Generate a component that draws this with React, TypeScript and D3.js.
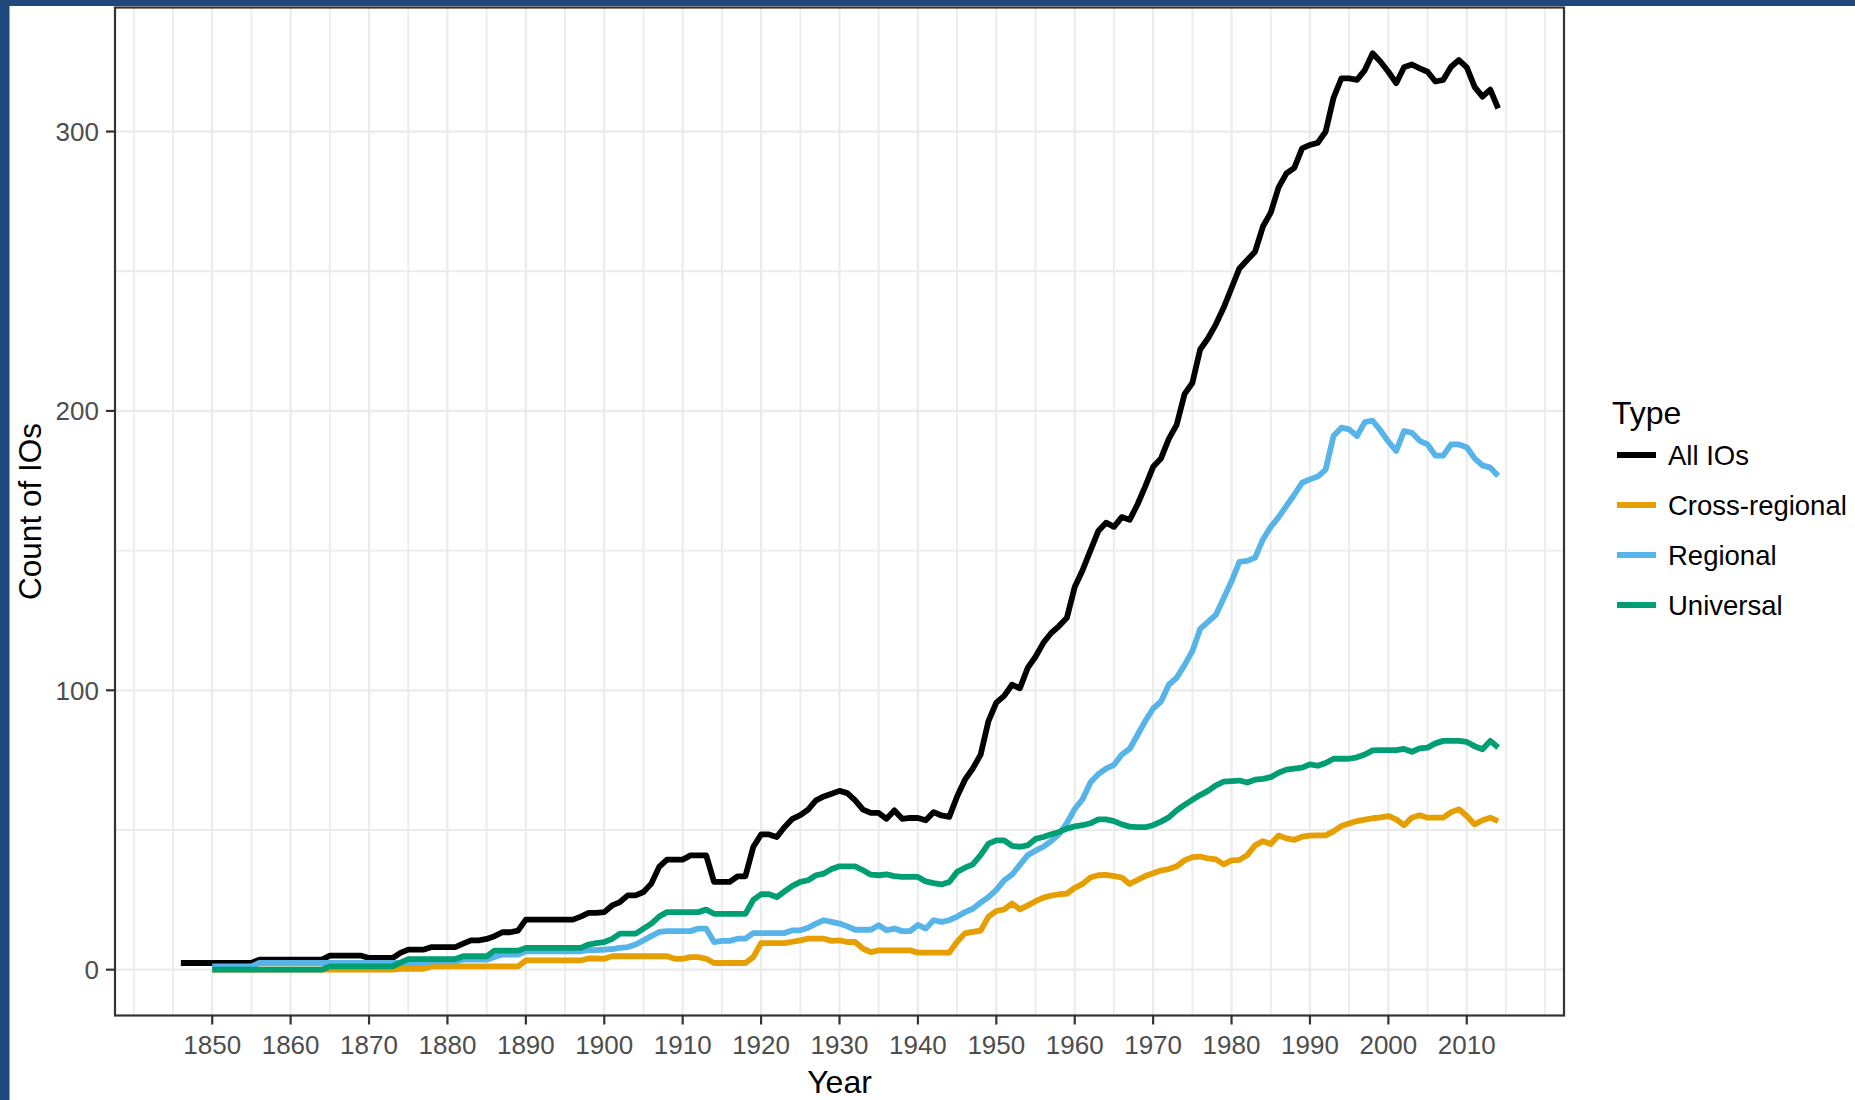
import React from "react";
import * as d3 from "d3";

const W = 1855;
const H = 1100;

const allStart = 1846;
const subStart = 1850;
const endYear = 2014;

const allIOs = [
  2.4, 2.4, 2.4, 2.4,
  2.4, 2.4, 2.4, 2.4, 2.4, 2.4, 3.6, 3.6, 3.6, 3.6,
  3.6, 3.6, 3.6, 3.6, 3.6, 5, 5, 5, 5, 5,
  4.2, 4.2, 4.2, 4.2, 6, 7.2, 7.2, 7.2, 8.1, 8.1,
  8.1, 8.1, 9.3, 10.5, 10.5, 11, 12, 13.4, 13.4, 14,
  17.9, 17.9, 17.9, 17.9, 17.9, 17.9, 17.9, 19, 20.3, 20.3,
  20.6, 23, 24.2, 26.6, 26.6, 27.8, 30.8, 36.8, 39.4, 39.4,
  39.4, 40.9, 40.9, 40.9, 31.4, 31.4, 31.4, 33.4, 33.4, 43.9,
  48.4, 48.4, 47.5, 51.1, 54, 55.3, 57.3, 60.6, 62, 63,
  64, 63.2, 60.6, 57.3, 56.1, 56.1, 54, 57, 54, 54.3,
  54.3, 53.5, 56.4, 55.2, 54.7, 62, 68, 72, 77, 89,
  95.6, 98, 102, 100.7, 108, 112, 117, 120.5, 123, 126,
  137, 143, 150, 157, 160, 158.5, 162, 161, 166.5, 173,
  180, 183, 190, 195, 206, 210, 222, 226, 231, 237,
  244, 251, 254, 257, 266, 271, 280, 285, 287, 294,
  295.2, 296, 300, 312, 319, 319, 318.5, 322, 328, 325,
  321.4, 317.3, 323, 324, 322.6, 321.4, 317.9, 318.5, 323.2, 325.6,
  323, 316, 312.5, 315, 308.3,
];

const crossRegional = [
  0, 0, 0, 0, 0, 0, 0, 0, 0, 0,
  0, 0, 0, 0, 0, 0, 0, 0, 0, 0,
  0, 0, 0, 0, 0.3, 0.3, 0.3, 0.3, 1.2, 1.2,
  1.2, 1.2, 1.2, 1.2, 1.2, 1.2, 1.2, 1.2, 1.2, 1.2,
  3.3, 3.3, 3.3, 3.3, 3.3, 3.3, 3.3, 3.3, 4, 4,
  3.9, 4.8, 4.8, 4.8, 4.8, 4.8, 4.8, 4.8, 4.8, 3.9,
  3.9, 4.5, 4.5, 3.9, 2.4, 2.4, 2.4, 2.4, 2.4, 4.5,
  9.5, 9.5, 9.5, 9.5, 10, 10.5, 11.1, 11.1, 11.1, 10.3,
  10.5, 9.9, 9.9, 7.5, 6.3, 6.9, 6.9, 6.9, 6.9, 6.9,
  6.1, 6.1, 6.1, 6.1, 6.1, 10, 13, 13.5, 14, 19,
  21, 21.6, 23.7, 21.6, 23, 24.5, 25.8, 26.5, 27, 27.2,
  29.3, 30.7, 33, 33.8, 33.9, 33.5, 33, 30.7, 32.1, 33.5,
  34.5, 35.5, 36, 37, 39.1, 40.3, 40.5, 39.8, 39.5, 37.7,
  39.1, 39.3, 41, 44.5, 46, 45, 48, 47, 46.5, 47.6,
  48, 48.1, 48.1, 49.5, 51.4, 52.3, 53.2, 53.7, 54.2, 54.5,
  55, 53.8, 51.7, 54.4, 55.3, 54.4, 54.4, 54.4, 56.4, 57.4,
  55, 52, 53.5, 54.4, 53.2,
];

const regional = [
  1.2, 1.2, 1.2, 1.2, 1.2, 1.2, 2.4, 2.4, 2.4, 2.4,
  2.4, 2.4, 2.4, 2.4, 2.4, 2.4, 2.4, 2.4, 2.4, 2.4,
  2.4, 2.4, 2.4, 2.4, 2.4, 2.4, 2.4, 2.4, 3, 3,
  3, 3, 3.6, 3.6, 3.6, 3.6, 4.5, 5.4, 5.4, 5.4,
  6.6, 6.6, 6.6, 6.6, 6.6, 6.6, 6.6, 6.6, 7, 7,
  7.2, 7.4, 7.8, 8.1, 9, 10.5, 12, 13.5, 13.8, 13.8,
  13.8, 13.8, 14.7, 14.7, 9.9, 10.3, 10.3, 11.1, 11.1, 13.1,
  13.1, 13.1, 13.1, 13.1, 14.1, 14.1, 15, 16.5, 17.7, 17.1,
  16.5, 15.5, 14.3, 14.3, 14.3, 15.9, 14.1, 14.7, 13.8, 13.8,
  16, 14.7, 17.7, 17.1, 17.7, 19, 20.6, 21.8, 24, 26,
  28.6, 32, 34, 37.5, 41, 42.6, 44, 46, 48.5, 52.5,
  57.5, 61, 67, 70, 72, 73.3, 77, 79, 84, 89,
  93.5, 96, 102, 104.5, 109, 114, 122, 124.5, 127, 133,
  139, 146, 146.3, 147.5, 154, 158.5, 162, 166, 170, 174.3,
  175.5, 176.5, 179, 191, 194, 193.4, 191, 196, 196.5, 193,
  189, 185.7, 192.8, 192.2, 189.3, 188, 184, 184, 188, 188,
  187, 183, 180.5, 179.7, 176.7,
];

const universal = [
  0, 0, 0, 0, 0, 0, 0, 0, 0, 0,
  0, 0, 0, 0, 0, 1.2, 1.2, 1.2, 1.2, 1.2,
  1.2, 1.2, 1.2, 1.2, 2.5, 3.8, 3.8, 3.8, 3.8, 3.8,
  3.8, 3.8, 4.8, 4.8, 4.8, 4.8, 6.8, 6.8, 6.8, 6.8,
  7.8, 7.8, 7.8, 7.8, 7.8, 7.8, 7.8, 7.8, 9, 9.5,
  9.9, 11, 12.9, 12.9, 12.9, 14.7, 16.5, 19, 20.6, 20.6,
  20.6, 20.6, 20.6, 21.5, 20, 20, 20, 20, 20, 25,
  27, 27, 26, 28, 30, 31.4, 32, 33.8, 34.4, 36,
  37, 37, 37, 35.6, 34, 33.8, 34.1, 33.5, 33.2, 33.2,
  33.2, 31.6, 31, 30.5, 31.4, 35, 36.5, 37.7, 41, 45.1,
  46.3, 46.3, 44.3, 44, 44.5, 46.8, 47.5, 48.5, 49.3, 50.5,
  51.3, 51.7, 52.4, 53.8, 53.8, 53.2, 52, 51.2, 51, 51,
  51.7, 53, 54.5, 57, 59, 60.8, 62.5, 64, 66, 67.3,
  67.5, 67.7, 67, 68, 68.3, 68.9, 70.5, 71.6, 72, 72.3,
  73.5, 73, 74, 75.5, 75.5, 75.5, 76, 77, 78.5, 78.6,
  78.6, 78.6, 79, 78, 79.2, 79.5, 81, 81.9, 81.9, 81.9,
  81.5, 80, 78.9, 81.9, 79.5,
];

const seriesNames = ["All IOs", "Cross-regional", "Regional", "Universal"];
const seriesColors = ["#000000", "#E69F00", "#56B4E9", "#009E73"];
const xBreaks = d3.range(1850, 2011, 10);
const yBreaks = [0, 100, 200, 300];

type Pt = { year: number; value: number };

function toPoints(start: number, vals: number[]): Pt[] {
  return vals.map((v, i) => ({ year: start + i, value: v }));
}

export default function App() {
  const series = [
    toPoints(allStart, allIOs),
    toPoints(subStart, crossRegional),
    toPoints(subStart, regional),
    toPoints(subStart, universal),
  ];

  const panel = { left: 115, right: 1564, top: 7.5, bottom: 1015.5 };

  const xMin = allStart;
  const xMax = endYear;
  const xPad = (xMax - xMin) * 0.05;
  const allVals = series.flat().map((p) => p.value);
  const yMinD = Math.min(0, d3.min(allVals) as number);
  const yMaxD = d3.max(allVals) as number;
  const yPad = (yMaxD - yMinD) * 0.05;

  const x = d3
    .scaleLinear()
    .domain([xMin - xPad, xMax + xPad])
    .range([panel.left, panel.right]);
  const y = d3
    .scaleLinear()
    .domain([yMinD - yPad, yMaxD + yPad])
    .range([panel.bottom, panel.top]);

  const line = d3
    .line<Pt>()
    .x((d) => x(d.year))
    .y((d) => y(d.value));

  const xMinor = d3.range(1840, 2021, 5).filter((v) => v >= x.domain()[0] && v <= x.domain()[1]);
  const yMinor = [50, 150, 250].filter((v) => v >= y.domain()[0] && v <= y.domain()[1]);

  const font = "'Liberation Sans', Arial, Helvetica, sans-serif";
  const legendX = 1617;
  const legendY0 = 455;
  const legendStep = 50;
  const lw = 5.8;

  return (
    <svg
      width={W}
      height={H}
      style={{ position: "absolute", left: 0, top: 0, display: "block" }}
      fontFamily={font}
    >
      <rect x={0} y={0} width={W} height={H} fill="#ffffff" />
      <rect x={0} y={0} width={W} height={6} fill="#1f497d" />
      <rect x={0} y={0} width={9.5} height={H} fill="#1f497d" />

      <g>
        {xMinor.map((v) => (
          <line
            key={"xg" + v}
            x1={x(v)}
            x2={x(v)}
            y1={panel.top}
            y2={panel.bottom}
            stroke="#EBEBEB"
            strokeWidth={xBreaks.includes(v) ? 2.2 : 1.8}
          />
        ))}
        {yMinor.map((v) => (
          <line
            key={"yg" + v}
            x1={panel.left}
            x2={panel.right}
            y1={y(v)}
            y2={y(v)}
            stroke="#EBEBEB"
            strokeWidth={1.8}
          />
        ))}
        {yBreaks.map((v) => (
          <line
            key={"ygm" + v}
            x1={panel.left}
            x2={panel.right}
            y1={y(v)}
            y2={y(v)}
            stroke="#EBEBEB"
            strokeWidth={2.2}
          />
        ))}
      </g>

      <g>
        {series.map((s, i) => (
          <path
            key={seriesNames[i]}
            d={line(s) || ""}
            fill="none"
            stroke={seriesColors[i]}
            strokeWidth={lw}
            strokeLinejoin="round"
            strokeLinecap="butt"
          />
        ))}
      </g>

      <rect
        x={panel.left}
        y={panel.top}
        width={panel.right - panel.left}
        height={panel.bottom - panel.top}
        fill="none"
        stroke="#333333"
        strokeWidth={2.2}
      />

      <g>
        {xBreaks.map((v) => (
          <g key={"xt" + v}>
            <line x1={x(v)} x2={x(v)} y1={panel.bottom} y2={panel.bottom + 9} stroke="#333333" strokeWidth={2.2} />
            <text x={x(v)} y={1054} textAnchor="middle" fontSize={26} fill="#4D4D4D">
              {v}
            </text>
          </g>
        ))}
        {yBreaks.map((v) => (
          <g key={"yt" + v}>
            <line x1={panel.left - 9} x2={panel.left} y1={y(v)} y2={y(v)} stroke="#333333" strokeWidth={2.2} />
            <text x={99} y={y(v) + 9.3} textAnchor="end" fontSize={26} fill="#4D4D4D">
              {v}
            </text>
          </g>
        ))}
      </g>

      <text x={(panel.left + panel.right) / 2} y={1093} textAnchor="middle" fontSize={32} fill="#000000">
        Year
      </text>
      <text
        transform={`translate(41, ${(panel.top + panel.bottom) / 2}) rotate(-90)`}
        textAnchor="middle"
        fontSize={31.5}
        fill="#000000"
      >
        Count of IOs
      </text>

      <g>
        <text x={1612} y={424} fontSize={32} fill="#000000">
          Type
        </text>
        {seriesNames.map((n, i) => (
          <g key={"lg" + n}>
            <line
              x1={legendX}
              x2={legendX + 39}
              y1={legendY0 + i * legendStep}
              y2={legendY0 + i * legendStep}
              stroke={seriesColors[i]}
              strokeWidth={lw}
            />
            <text x={1668} y={legendY0 + i * legendStep + 9.8} fontSize={27.5} fill="#000000">
              {n}
            </text>
          </g>
        ))}
      </g>
    </svg>
  );
}
